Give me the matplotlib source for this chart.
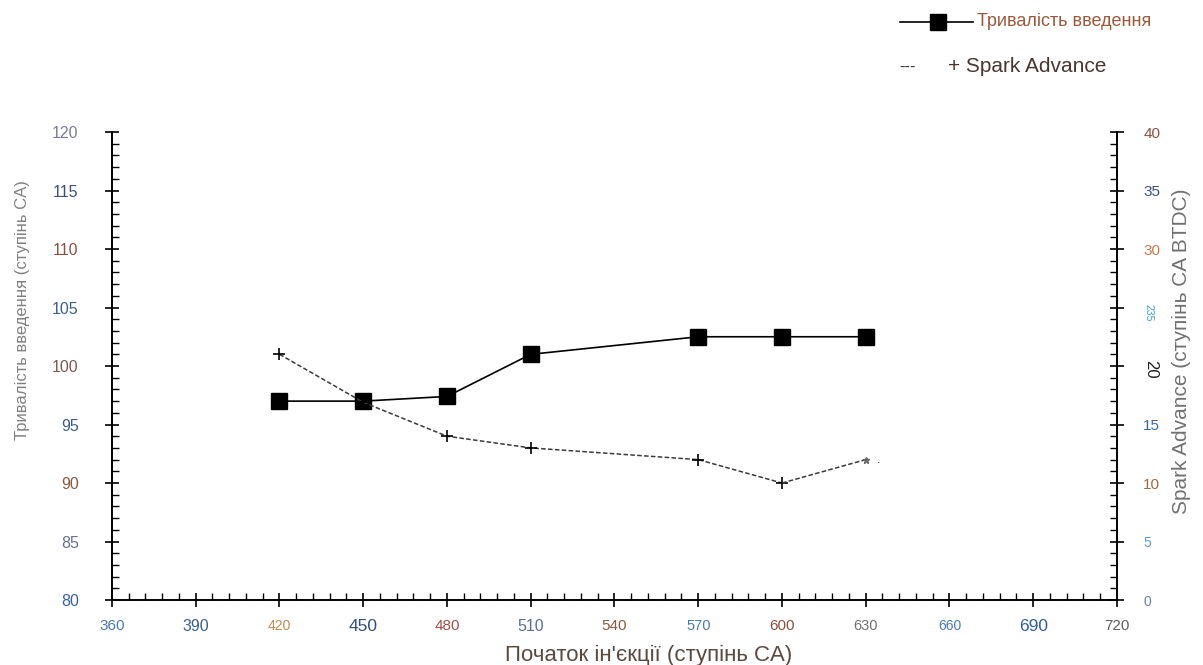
import matplotlib.pyplot as plt
from matplotlib.lines import Line2D
from matplotlib.ticker import MultipleLocator

plt.rcParams['font.family'] = ['Liberation Sans', 'DejaVu Sans']

# data
start_angle = [420, 450, 480, 510, 570, 600, 630]
duration = [97, 97, 97.4, 101, 102.5, 102.5, 102.5]
spark_angle = [420, 450, 480, 510, 570, 600, 630]
spark_advance = [21, 16.9, 14, 13, 12, 10, 12]

x_ticks = [360, 390, 420, 450, 480, 510, 540, 570, 600, 630, 660, 690, 720]
x_colors = ['#4a7ab0', '#3a5f8f', '#c08a50', '#2f4f7f', '#a0504a', '#5a7090',
            '#8a5a40', '#4a7ab0', '#8a5040', '#707070', '#4a7ab0', '#2f5f9f', '#606060']
x_sizes = [11, 11.5, 10, 12.5, 11, 11.5, 11, 10.5, 11, 10.5, 10, 12.5, 11]
left_ticks = [80, 85, 90, 95, 100, 105, 110, 115, 120]
left_colors = ['#3a5f9f', '#6a7090', '#8a5a40', '#3a5f8f', '#7a5a50', '#3a5f8f',
               '#8a5040', '#3a4f7f', '#7a7a9a']
right_ticks = [0, 5, 10, 15, 20, 25, 30, 35, 40]
right_labels = ['0', '5', '10', '15', '20', '235', '30', '35', '40']
right_colors = ['#6a80a0', '#5a9ad0', '#a06a40', '#3a6a9f', '#202020', '#3aa0c0',
                '#c07a50', '#3a4f7f', '#8a5040']

W, H = 1203, 665
fig = plt.figure(figsize=(12.03, 6.65), dpi=100)
ax = fig.add_axes([0.0931, 0.0977, 0.8354, 0.7038])
ax2 = ax.twinx()

ax.plot(start_angle, duration, color='black', lw=1.2, marker='s', ms=11, zorder=3)
ax2.plot(spark_angle[:-1], spark_advance[:-1], color='#3a3a3a', lw=1.1,
         dashes=(3, 1.5), marker='+', ms=8, mew=1.2, mec='black')
ax2.plot(spark_angle[-2:], spark_advance[-2:], color='#3a3a3a', lw=1.1, dashes=(3, 1.5))
ax2.plot(spark_angle[-1:], spark_advance[-1:], color='#666666', marker='*', ms=5, ls='none')
ax2.annotate('.', (spark_angle[-1], spark_advance[-1]), xytext=(8, 0),
             textcoords='offset points', fontsize=9, color='#333333', va='center')

ax.set_xlim(360, 720)
ax.set_ylim(80, 120)
ax2.set_ylim(0, 40)

for a in (ax, ax2):
    a.spines['top'].set_visible(False)
    for s in a.spines.values():
        s.set_linewidth(1.2)

ax.set_xticks(x_ticks)
ax.set_xticklabels([str(t) for t in x_ticks])
ax.xaxis.set_minor_locator(MultipleLocator(6))
ax.set_yticks(left_ticks)
ax.set_yticklabels([str(t) for t in left_ticks])
ax.yaxis.set_minor_locator(MultipleLocator(1))
ax2.set_yticks(right_ticks)
ax2.set_yticklabels(right_labels)
ax2.yaxis.set_minor_locator(MultipleLocator(1))

ax.tick_params(which='major', direction='inout', length=10, width=1.2, labelsize=11.5)
ax.tick_params(which='minor', direction='in', length=5, width=1)
ax.tick_params(axis='x', which='major', pad=9)
ax.tick_params(axis='y', which='major', pad=19)
ax2.tick_params(which='major', direction='inout', length=10, width=1.2, labelsize=11, pad=14)
ax2.tick_params(which='minor', direction='in', length=5, width=1)

for lab, c, s in zip(ax.get_xticklabels(), x_colors, x_sizes):
    lab.set_color(c)
    lab.set_fontsize(s)
for lab, c in zip(ax.get_yticklabels(), left_colors):
    lab.set_color(c)
for lab, c in zip(ax2.get_yticklabels(), right_colors):
    lab.set_color(c)
rl = ax2.get_yticklabels()
rl[0].set_fontsize(10)
rl[1].set_fontsize(10)
rl[4].set_rotation(-90)
rl[4].set_fontsize(12)
rl[5].set_rotation(-90)
rl[5].set_fontsize(7.5)

# axis titles placed where the reference has them
fig.text(649 / W, 1 - 655 / H, "Початок ін'єкції (ступінь CA)", fontsize=16,
         color='#5a4a40', ha='center', va='center')
fig.text(23 / W, 1 - 310 / H, "Тривалість введення (ступінь CA)", fontsize=12,
         color='#808080', ha='center', va='center', rotation=90)
fig.text(1181 / W, 1 - 351 / H, "Spark Advance (ступінь CA BTDC)", fontsize=15,
         color='#707070', ha='center', va='center', rotation=90)

# legend drawn in figure coordinates, as in the reference
fig.add_artist(Line2D([900 / W, 973 / W], [1 - 22 / H, 1 - 22 / H], color='black', lw=1.2))
fig.add_artist(Line2D([938 / W], [1 - 22 / H], color='black', marker='s', ms=11, ls='none'))
fig.text(977 / W, 1 - 22 / H, 'Тривалість введення', fontsize=13, color='#9a5a3a', va='center')
fig.text(899 / W, 1 - 67 / H, '---', fontsize=12, color='#333333', va='center')
fig.text(948 / W, 1 - 67 / H, '+ Spark Advance', fontsize=15, color='#4a3530', va='center')

fig.savefig('out.png', dpi=100)
